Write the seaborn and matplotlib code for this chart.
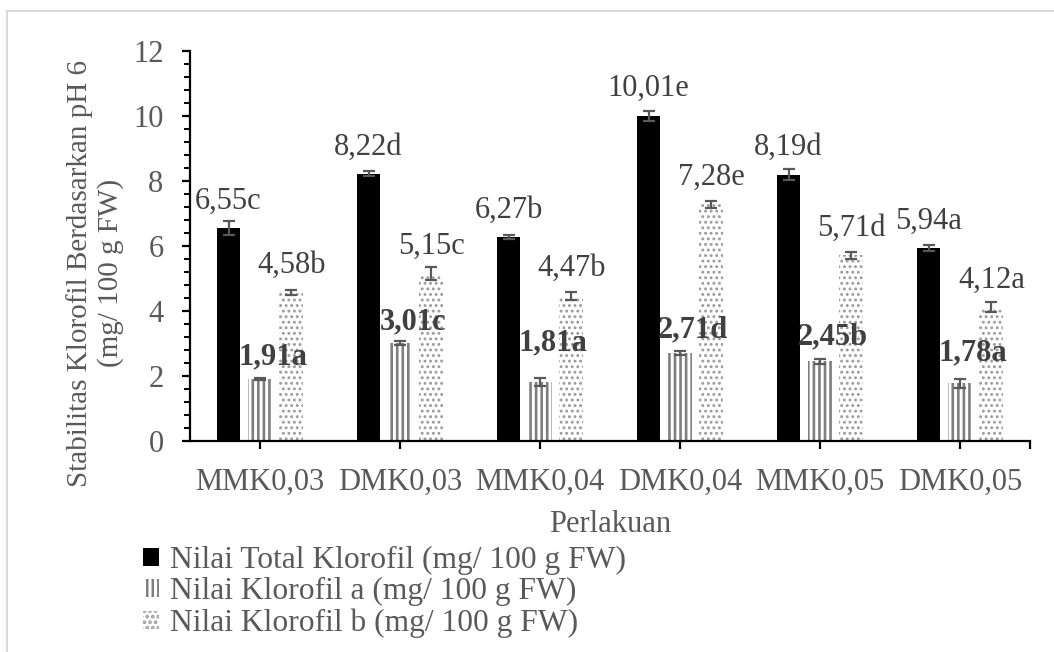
import numpy as np
import pandas as pd
import seaborn as sns
import matplotlib.pyplot as plt
from matplotlib.patches import Patch, Rectangle

# data
perlakuan = ["MMK0,03", "DMK0,03", "MMK0,04", "DMK0,04", "MMK0,05", "DMK0,05"]
series = ["Nilai Total Klorofil (mg/ 100 g FW)",
          "Nilai Klorofil a (mg/ 100 g FW)",
          "Nilai Klorofil b (mg/ 100 g FW)"]

total = [6.55, 8.22, 6.27, 10.01, 8.19, 5.94]
klor_a = [1.91, 3.01, 1.81, 2.71, 2.45, 1.78]
klor_b = [4.58, 5.15, 4.47, 7.28, 5.71, 4.12]

err_total = [0.21, 0.08, 0.07, 0.15, 0.17, 0.08]
err_a = [0.04, 0.07, 0.12, 0.06, 0.07, 0.14]
err_b = [0.08, 0.20, 0.13, 0.10, 0.11, 0.15]

notasi_total = ["c", "d", "b", "e", "d", "a"]
notasi_a = ["a", "c", "a", "d", "b", "a"]
notasi_b = ["b", "c", "b", "e", "d", "a"]

# label offsets in pixels above bar top (manual placement like in Excel)
dy_a = [22, 21, 39, 23, 24, 30]

df = pd.DataFrame({
    "Perlakuan": perlakuan * 3,
    "Seri": np.repeat(series, len(perlakuan)),
    "Nilai": total + klor_a + klor_b,
})

sns.set_style("ticks")
plt.rcParams["font.family"] = ["Liberation Serif", "DejaVu Serif"]
plt.rcParams["hatch.linewidth"] = 1.8

fig = plt.figure(figsize=(10.54, 6.52), dpi=100)
ax = fig.add_axes([0.1802, 0.3236, 0.7970, 0.5982])

sns.barplot(data=df, x="Perlakuan", y="Nilai", hue="Seri", order=perlakuan,
            hue_order=series, width=0.673, gap=0.24, errorbar=None,
            palette=["black", "white", "white"], legend=False, ax=ax)

hatches = [None, "|||", "..."]
hatch_cols = ["black", "#7f7f7f", "#9a9a9a"]
hatch_lw = [1.8, 1.9, 1.3]
errs = [err_total, err_a, err_b]
vals = [total, klor_a, klor_b]
notasi = [notasi_total, notasi_a, notasi_b]

bar_groups = list(ax.containers)
for k, cont in enumerate(bar_groups):
    xs = []
    for bar in cont:
        bar.set_linewidth(0)
        bar.set_edgecolor(hatch_cols[k])
        if hatches[k]:
            bar.set_hatch(hatches[k])
            if hasattr(bar, "set_hatch_linewidth"):
                bar.set_hatch_linewidth(hatch_lw[k])
        xs.append(bar.get_x() + bar.get_width() / 2)
    ax.errorbar(xs, vals[k], yerr=errs[k], fmt="none", ecolor="#595959",
                elinewidth=1.6, capsize=4, capthick=1.6, zorder=5)
    for i, x in enumerate(xs):
        txt = f"{vals[k][i]:.2f}".replace(".", ",") + notasi[k][i]
        if k == 1:
            ax.annotate(txt, (x, vals[k][i]), xytext=(13, dy_a[i]),
                        textcoords="offset pixels", ha="center", va="center",
                        fontsize=22, fontweight="bold", color="#404040", zorder=6)
        else:
            ax.annotate(txt, (x, vals[k][i]), xytext=(0, 27),
                        textcoords="offset pixels", ha="center", va="center",
                        fontsize=22, color="#404040", zorder=6)

ax.set_xlim(-0.5, 5.5)
ax.set_ylim(0, 12)
ax.set_yticks(np.arange(0, 13, 2))
ax.set_yticks(np.arange(0, 12.01, 0.4), minor=True)
ax.set_xticks([5.5], minor=True)

sns.despine(ax=ax)
for s in ["left", "bottom"]:
    ax.spines[s].set_linewidth(1.6)
    ax.spines[s].set_color("black")

ax.tick_params(axis="both", which="major", length=6, width=1.6, color="black",
               labelsize=22, labelcolor="#595959", pad=13)
ax.tick_params(axis="y", which="minor", length=4, width=1.4, color="black")
ax.tick_params(axis="x", which="minor", length=6, width=1.6, color="black")

ax.set_xlabel("Perlakuan", fontsize=22, color="#595959", va="center")
ax.xaxis.set_label_coords(0.5, -0.215)
ax.set_ylabel("Stabilitas Klorofil Berdasarkan pH 6\n(mg/ 100 g FW)",
              fontsize=21, color="#595959", va="center", linespacing=1.15)
ax.yaxis.set_label_coords(-0.113, 0.43)

handles = [
    Patch(facecolor="black", edgecolor="black", linewidth=0),
    Patch(facecolor="white", edgecolor="#7f7f7f", hatch="|||", linewidth=0),
    Patch(facecolor="white", edgecolor="#9a9a9a", hatch="...", linewidth=0),
]
fig.legend(handles, series, loc="upper left", bbox_to_anchor=(0.1357, 0.163),
           frameon=False, fontsize=22.7, labelcolor="#595959",
           handlelength=0.5, handleheight=0.5, handletextpad=0.35,
           labelspacing=0.08, borderpad=0, borderaxespad=0)

# light chart-area frame like the Excel export
fig.patches.append(Rectangle((7 / 1054, -0.1), 1.2, 1 - 11 / 652 + 0.1,
                             transform=fig.transFigure, fill=False,
                             edgecolor="#d9d9d9", linewidth=1.5))

fig.savefig("out.png", dpi=100)
